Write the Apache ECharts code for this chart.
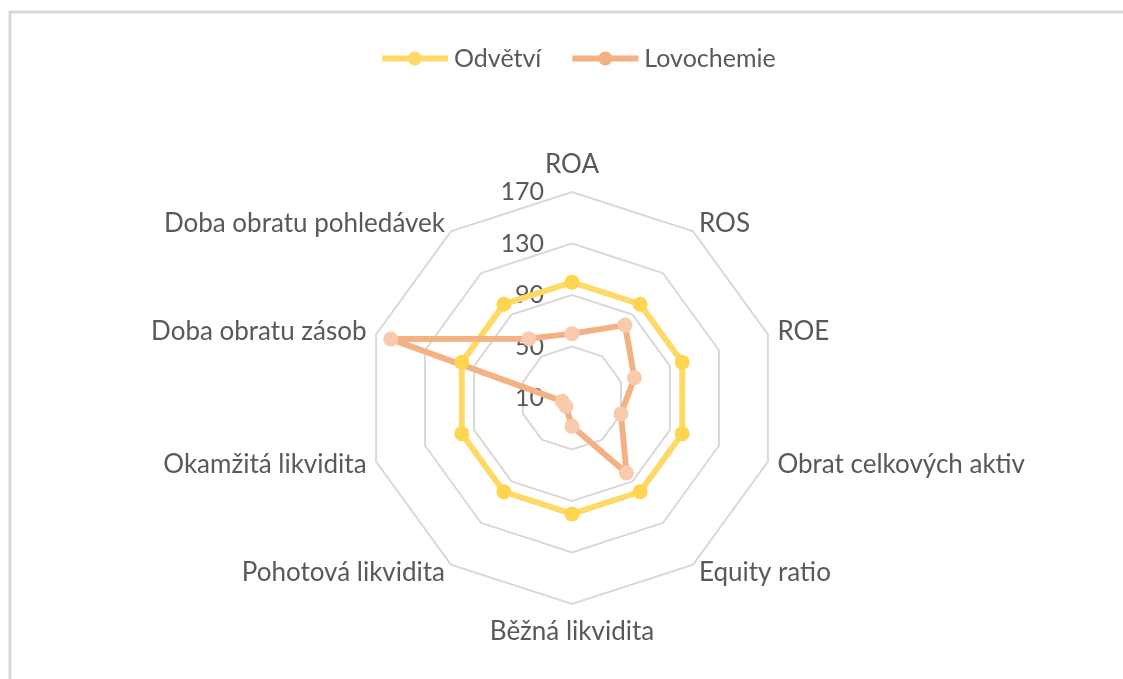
<!DOCTYPE html>
<html>
<head>
<meta charset="utf-8">
<script src="https://cdn.jsdelivr.net/npm/echarts@6/dist/echarts.min.js"></script>
<style>
  html, body { margin: 0; padding: 0; background: #fff; }
  #chart { width: 1123px; height: 679px; }
</style>
</head>
<body>
<div id="chart"></div>
<script>
// ukazatele (osy radaru), po smeru hodin od vrcholu
const indicators = ['ROA', 'ROS', 'ROE', 'Obrat celkových aktiv', 'Equity ratio',
  'Běžná likvidita', 'Pohotová likvidita', 'Okamžitá likvidita',
  'Doba obratu zásob', 'Doba obratu pohledávek'];
const seriesNames = ['Odvětví', 'Lovochemie'];
const odvetvi = [100, 100, 100, 100, 100, 100, 100, 100, 100, 100];
const lovochemie = [60, 80, 61, 50, 82, 32, 18, 18, 158, 67];
const axisMin = 10;
const axisMax = 170; // popisky 10, 50, 90, 130, 170

const textColor = '#595959';
const fontFamily = 'Lato, "Liberation Sans", sans-serif';
const yellow = '#ffd966';
const orange = '#f4b183';

// radar v echarts jde proti smeru hodin -> otocit poradi (ROA zustava nahore)
const order = [0];
for (let i = indicators.length - 1; i > 0; i--) order.push(i);
const pick = function (arr) { return order.map(function (i) { return arr[i]; }); };

// ikona legendy: cara s kolecek uprostred
const legendIcon = 'path://M0,4L66,4L66,10L0,10Z M33,0A7,7 0 1,1 32.99,0Z';

const chart = echarts.init(document.getElementById('chart'));

const option = {
  backgroundColor: '#fff',
  textStyle: { fontFamily: fontFamily },
  graphic: [{
    type: 'rect',
    shape: { x: 10, y: 12, width: 1300, height: 900 },
    style: { fill: 'none', stroke: '#d9d9d9', lineWidth: 3 },
    silent: true
  }],
  legend: {
    top: 41,
    left: 377,
    itemWidth: 66,
    itemHeight: 14,
    itemGap: 31,
    textStyle: { color: textColor, fontSize: 25, fontFamily: fontFamily, padding: [0, 0, 0, 1] },
    data: [
      { name: seriesNames[0], icon: legendIcon, itemStyle: { color: yellow } },
      { name: seriesNames[1], icon: legendIcon, itemStyle: { color: orange } }
    ]
  },
  radar: {
    center: [572, 398],
    radius: 206,
    startAngle: 90,
    splitNumber: 4,
    shape: 'polygon',
    nameGap: 10,
    axisName: { color: textColor, fontSize: 26, fontFamily: fontFamily },
    axisLine: { show: false },
    axisTick: { show: false },
    splitArea: { show: false },
    splitLine: { lineStyle: { color: '#d9d9d9', width: 2 } },
    axisLabel: { show: false },
    indicator: pick(indicators).map(function (name) {
      const ind = { name: name, min: axisMin, max: axisMax };
      if (name === 'ROA') {
        ind.nameGap = 14;
        // hodnoty jen na prvni ose
        ind.axisLabel = { show: true, color: textColor, fontSize: 25, margin: 28, fontFamily: fontFamily };
      }
      if (name === 'Běžná likvidita') ind.nameGap = 15;
      return ind;
    })
  },
  series: [{
    type: 'radar',
    symbol: 'circle',
    symbolSize: 15,
    data: [
      {
        name: seriesNames[0],
        value: pick(odvetvi),
        lineStyle: { color: yellow, width: 6 },
        itemStyle: { color: '#ffd54f' }
      },
      {
        name: seriesNames[1],
        value: pick(lovochemie),
        lineStyle: { color: orange, width: 6 },
        itemStyle: { color: '#f8cbad' }
      }
    ]
  }]
};

chart.setOption(option);
</script>
</body>
</html>
